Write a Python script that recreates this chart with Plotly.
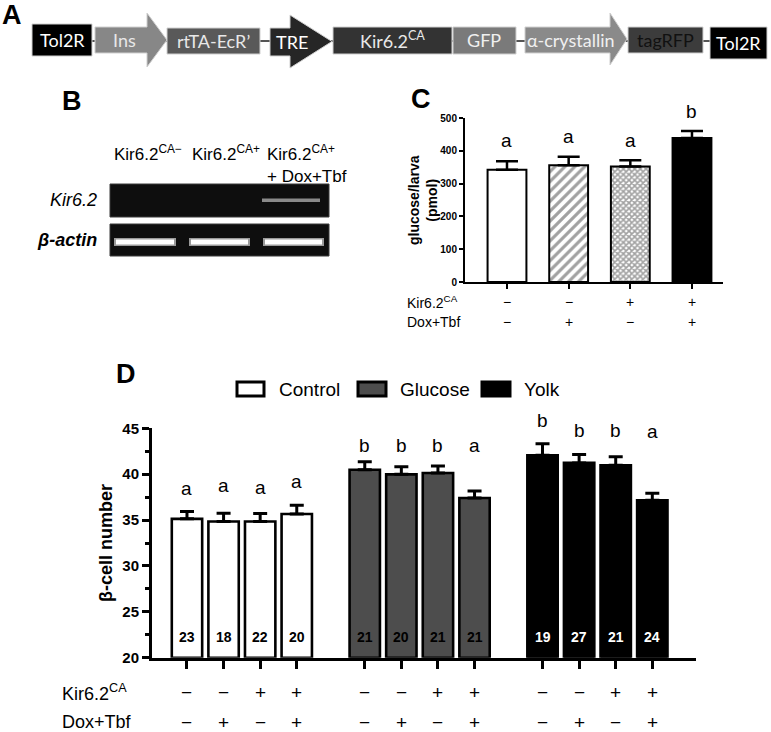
import plotly.graph_objects as go

W, H = 771, 732
def px(x): return x / W
def py(y): return 1 - y / H

# ---------------- data ----------------
# Panel C: glucose per larva (pmol)
c_mean = [342, 356, 352, 439]
c_sem = [26, 26, 19, 21]
c_letters = ["a", "a", "a", "b"]
c_kir = ["−", "−", "+", "+"]
c_dox = ["−", "+", "−", "+"]

# Panel D: beta-cell number
groups = ["Control", "Glucose", "Yolk"]
control_mean = [35.13, 34.84, 34.84, 35.66]
control_sem = [0.80, 0.90, 0.87, 0.95]
glucose_mean = [40.48, 39.98, 40.13, 37.41]
glucose_sem = [0.88, 0.84, 0.76, 0.77]
yolk_mean = [42.05, 41.23, 40.98, 37.16]
yolk_sem = [1.27, 0.91, 0.91, 0.77]
control_n = ["23", "18", "22", "20"]
glucose_n = ["21", "20", "21", "21"]
yolk_n = ["19", "27", "21", "24"]
control_letters = ["a", "a", "a", "a"]
glucose_letters = ["b", "b", "b", "a"]
yolk_letters = ["b", "b", "b", "a"]
d_kir = ["−", "−", "+", "+"]
d_dox = ["−", "+", "−", "+"]
d_ticks = [20, 25, 30, 35, 40, 45]

# construct elements in panel A
constructs = ["Tol2R", "Ins", "rtTA-EcR’", "TRE", "Kir6.2<sup>CA</sup>", "GFP", "α-crystallin", "tagRFP", "Tol2R"]
# gel lane labels in panel B
lane_labels = ["Kir6.2<sup>CA−</sup>", "Kir6.2<sup>CA+</sup>", "Kir6.2<sup>CA+</sup><br>+ Dox+Tbf"]

# ---------------- layout helpers ----------------
ARIAL = "Liberation Sans, Arial, sans-serif"
CAL = "Lato, Open Sans, sans-serif"

# pixel geometry of the two plotting areas
D_X0, D_X1, D_Y0, D_Y1 = 152, 696, 657.7, 428.3
C_X0, C_X1, C_Y0, C_Y1 = 465, 723, 282, 118
D_RANGE = [20, 45]
C_RANGE = [0, 500]
def d_py(v): return py(D_Y0 - (v - D_RANGE[0]) / (D_RANGE[1] - D_RANGE[0]) * (D_Y0 - D_Y1))
def c_py(v): return py(C_Y0 - (v - C_RANGE[0]) / (C_RANGE[1] - C_RANGE[0]) * (C_Y0 - C_Y1))

fig = go.Figure()

# Panel D traces
gap = 1.858
group_means = [control_mean, glucose_mean, yolk_mean]
group_sems = [control_sem, glucose_sem, yolk_sem]
group_ns = [control_n, glucose_n, yolk_n]
group_letters = [control_letters, glucose_letters, yolk_letters]
fills = ["white", "#4d4d4d", "black"]
num_colors = ["black", "black", "white"]
letter_levels = [[38.45, 38.73, 38.55, 39.16], [43.15, 43.15, 43.15, 43.15], [45.87, 44.78, 44.78, 44.67]]
all_pos = []
for g in range(3):
    pos = [g * (3 + gap) + i for i in range(4)]
    all_pos += pos
    fig.add_trace(go.Bar(
        x=pos, y=[m - 20 for m in group_means[g]], base=20, width=0.83,
        marker=dict(color=fills[g], line=dict(color="black", width=2.6)),
        error_y=dict(type="data", array=group_sems[g], arrayminus=[0] * 4, symmetric=False,
                     thickness=3, width=7, color="black"),
        xaxis="x", yaxis="y", showlegend=False, cliponaxis=False, name=groups[g]))

# Panel C trace
c_pos = [0, 1, 2, 3]
fig.add_trace(go.Bar(
    x=c_pos, y=c_mean, width=0.63,
    marker=dict(color=["white", "white", "white", "black"],
                line=dict(color="black", width=2),
                pattern=dict(shape=["", "/", "x", ""], fgcolor="black", bgcolor="white",
                             size=[6, 7, 4, 6], solidity=[0.3, 0.45, 0.65, 0.3])),
    error_y=dict(type="data", array=c_sem, arrayminus=[0] * 4, symmetric=False,
                 thickness=2.5, width=11, color="black"),
    xaxis="x2", yaxis="y2", showlegend=False, cliponaxis=False))

axis_common = dict(showgrid=False, zeroline=False, showline=True, linecolor="black",
                   automargin=False, fixedrange=True)

fig.update_layout(
    width=W, height=H, margin=dict(l=0, r=0, t=0, b=0),
    paper_bgcolor="white", plot_bgcolor="white", showlegend=False,
    xaxis=dict(domain=[px(D_X0), px(D_X1)], range=[-0.956, 13.91], linewidth=3,
               tickvals=all_pos, ticks="outside", ticklen=8, tickwidth=2.5, tickcolor="black",
               showticklabels=False, anchor="y", **axis_common),
    yaxis=dict(domain=[py(D_Y0), py(D_Y1)], range=D_RANGE, linewidth=3,
               tickvals=d_ticks, ticks="outside", ticklen=7, tickwidth=3, tickcolor="black",
               tickfont=dict(family=ARIAL, size=15, color="black", weight="bold"),
               minor=dict(dtick=2.5, ticks="outside", ticklen=4, tickwidth=2.5, tickcolor="black"),
               anchor="x", **axis_common),
    xaxis2=dict(domain=[px(C_X0), px(C_X1)], range=[-0.681, 3.503], linewidth=2,
                tickvals=c_pos, ticks="outside", ticklen=5, tickwidth=2, tickcolor="black",
                showticklabels=False, anchor="y2", **axis_common),
    yaxis2=dict(domain=[py(C_Y0), py(C_Y1)], range=C_RANGE, linewidth=2,
                tickvals=[0, 100, 200, 300, 400, 500], ticks="outside", ticklen=4, tickwidth=2,
                tickcolor="black", tickfont=dict(family=ARIAL, size=10, color="black", weight="bold"),
                anchor="x2", **axis_common),
)

ann = []
def A(text, x, y, size, xref="paper", yref="paper", color="black", bold=False, italic=False,
      xanchor="center", yanchor="middle", family=ARIAL, angle=0, align="center"):
    ann.append(dict(text=text, x=x, y=y, xref=xref, yref=yref, showarrow=False,
                    font=dict(family=family, size=size, color=color,
                              weight="bold" if bold else "normal",
                              style="italic" if italic else "normal"),
                    xanchor=xanchor, yanchor=yanchor, textangle=angle, align=align))

# panel letters
A("A", px(12), py(15), 27, bold=True)
A("B", px(72), py(101), 27, bold=True)
A("C", px(421), py(99), 27, bold=True)
A("D", px(126), py(374), 27, bold=True)

# ---------------- Panel A schematic ----------------
shapes = []
def P(x, y): return f"{px(x):.5f},{py(y):.5f}"
shapes.append(dict(type="line", xref="paper", yref="paper", x0=px(92), x1=px(712), y0=py(41), y1=py(41),
                   line=dict(color="#555555", width=2)))
def rect(x0, x1, y0, y1, fill):
    shapes.append(dict(type="rect", xref="paper", yref="paper", x0=px(x0), x1=px(x1), y0=py(y1), y1=py(y0),
                       fillcolor=fill, line=dict(color="#d0d0d0", width=1)))
def arrow(x0, xb, tip, yb0, yb1, yh0, yh1, fill):
    ym = (yh0 + yh1) / 2
    path = ("M" + P(x0, yb0) + " L" + P(xb, yb0) + " L" + P(xb, yh0) + " L" + P(tip, ym) +
            " L" + P(xb, yh1) + " L" + P(xb, yb1) + " L" + P(x0, yb1) + " Z")
    shapes.append(dict(type="path", xref="paper", yref="paper", path=path, fillcolor=fill,
                       line=dict(color="#d0d0d0", width=1)))

rect(32, 92, 24, 56, "black")
arrow(95, 147, 167, 27, 53, 13, 67, "#878787")
rect(167, 260, 28, 54, "#595959")
arrow(270, 290, 332, 28, 56, 15, 68, "#262626")
rect(333, 452, 27, 54, "#333333")
rect(453, 516, 27, 54, "#7a7a7a")
arrow(525, 610, 627, 27, 53, 13, 65, "#8a8a8a")
rect(628, 703, 27, 53, "#3c3c3c")
rect(710, 767, 27, 59, "black")

a_centers = [62, 124, 213, 292, 392, 484, 571, 665, 738]
a_colors = ["white", "#e8e8e8", "#e8e8e8", "white", "#e8e8e8", "#f0f0f0", "#f0f0f0", "#111111", "white"]
a_y = [40, 40, 41, 42, 40, 40, 40, 40, 43]
for t, cx, col, yy in zip(constructs, a_centers, a_colors, a_y):
    A(t, px(cx), py(yy), 18, color=col, family=CAL)

# ---------------- Panel B gel ----------------
for (y0, y1) in [(184, 217), (224, 256)]:
    shapes.append(dict(type="rect", xref="paper", yref="paper", x0=px(110), x1=px(329),
                       y0=py(y1), y1=py(y0), fillcolor="#0e0e0e", line=dict(color="#3a3a3a", width=1)))
# faint Kir6.2 band
shapes.append(dict(type="rect", xref="paper", yref="paper", x0=px(262), x1=px(320), y0=py(202), y1=py(198.5),
                   fillcolor="#8a8a8a", line=dict(width=0)))
for (b0, b1) in [(115, 175), (190, 249), (264, 323)]:
    shapes.append(dict(type="rect", xref="paper", yref="paper", x0=px(b0 - 1), x1=px(b1 + 1), y0=py(246),
                       y1=py(238), fillcolor="#9a9a9a", line=dict(width=0)))
    shapes.append(dict(type="rect", xref="paper", yref="paper", x0=px(b0 + 1), x1=px(b1 - 1), y0=py(244.5),
                       y1=py(239.5), fillcolor="white", line=dict(width=0)))
for lbl, lx in zip(lane_labels, [112, 190, 265]):
    ann.append(dict(text=lbl, x=px(lx), y=py(140), xref="paper", yref="paper", showarrow=False,
                    xanchor="left", yanchor="top", align="left",
                    font=dict(family=ARIAL, size=17, color="black")))
A("Kir6.2", px(99), py(200), 18, italic=True, xanchor="right")
A("β-actin", px(99), py(240), 18, italic=True, bold=True, xanchor="right")

# ---------------- Panel C annotations ----------------
A("glucose/larva<br>(pmol)", px(423), py(200), 14, bold=True, angle=-90)
c_letter_levels = [431, 443, 431, 519]
for i in range(4):
    A(c_letters[i], c_pos[i], c_py(c_letter_levels[i]), 19, xref="x2")
    A(c_kir[i], c_pos[i], py(302), 14, xref="x2")
    A(c_dox[i], c_pos[i], py(322), 14, xref="x2")
A("Kir6.2<sup>CA</sup>", px(405), py(302), 14, xanchor="left")
A("Dox+Tbf", px(405), py(322), 14, xanchor="left")

# ---------------- Panel D annotations ----------------
A("β-cell number", px(106), py(543), 18, bold=True, angle=-90)
for g in range(3):
    for i in range(4):
        x = g * (3 + gap) + i
        A(group_letters[g][i], x, d_py(letter_levels[g][i]), 19, xref="x")
        A(group_ns[g][i], x, d_py(22.25), 14, xref="x", bold=True, color=num_colors[g])
        A(d_kir[i], x, py(692), 19, xref="x")
        A(d_dox[i], x, py(722), 19, xref="x")
A("Kir6.2<sup>CA</sup>", px(60), py(692), 18, xanchor="left")
A("Dox+Tbf", px(60), py(722), 18, xanchor="left")

# legend
leg = [(237, 264, "white", 277), (358, 386, "#4d4d4d", 398), (482, 510, "black", 522)]
for (x0, x1, f, tx), name in zip(leg, groups):
    shapes.append(dict(type="rect", xref="paper", yref="paper", x0=px(x0), x1=px(x1), y0=py(396), y1=py(382),
                       fillcolor=f, line=dict(color="black", width=3)))
    A(name, px(tx), py(389), 19, xanchor="left")

fig.update_layout(annotations=ann, shapes=shapes)
fig.write_html("out.html", config={"displayModeBar": False},
               post_script="document.body.style.margin='0px';document.body.style.overflow='hidden';")
